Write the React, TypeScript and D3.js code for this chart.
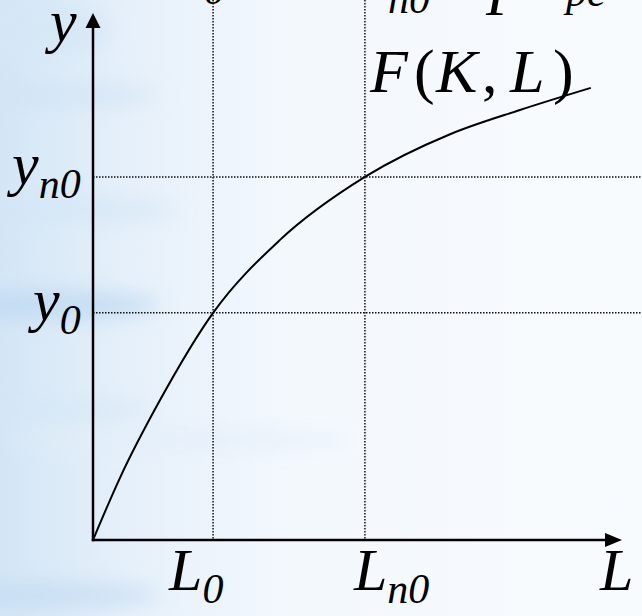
import React from "react";
import * as d3 from "d3";

const W = 642;
const H = 616;

// Sampled points of the production function y = F(K, L), K fixed
const curveL = [0, 0.51, 1.27, 2.27, 3.53, 5.14, 6.75, 8.07, 9.41];
const curveY = [0, 1.18, 2.66, 4.31, 5.69, 6.89, 7.7, 8.16, 8.58];

// Reference levels of labour and output
const markL = [2.27, 5.14];
const markLSubs = ["0", "n0"];
const markY = [4.31, 6.89];
const markYSubs = ["0", "n0"];

const FONT = "'Liberation Serif', 'Times New Roman', serif";

export default function App() {
  const x = d3.scaleLinear().domain([0, 10]).range([93, 622]);
  const y = d3.scaleLinear().domain([0, 10]).range([540, 13]);

  const pts: [number, number][] = curveL.map((l, i) => [l, curveY[i]]);
  const line = d3
    .line<[number, number]>()
    .x((d) => x(d[0]))
    .y((d) => y(d[1]))
    .curve(d3.curveMonotoneX);

  const x0 = x(0);
  const y0 = y(0);

  return (
    <div style={{ position: "fixed", left: 0, top: 0 }}>
      <svg width={W} height={H} viewBox={`0 0 ${W} ${H}`} style={{ display: "block" }}>
        <defs>
          <linearGradient id="bg" x1="0" y1="0" x2="1" y2="0">
            <stop offset="0" stopColor="#d3e6f6" />
            <stop offset="0.2" stopColor="#e6f0fa" />
            <stop offset="0.45" stopColor="#f3f8fd" />
            <stop offset="1" stopColor="#f8fbfe" />
          </linearGradient>
          <filter id="soft" x="-50%" y="-50%" width="200%" height="200%">
            <feGaussianBlur stdDeviation="10" />
          </filter>
        </defs>
        <rect x={0} y={0} width={W} height={H} fill="url(#bg)" />
        <g filter="url(#soft)" opacity={0.85}>
          <ellipse cx={40} cy={305} rx={120} ry={14} fill="#c0daf2" />
          <ellipse cx={30} cy={595} rx={130} ry={12} fill="#c6ddf3" />
          <ellipse cx={20} cy={30} rx={90} ry={30} fill="#d6e7f6" />
          <ellipse cx={50} cy={95} rx={110} ry={10} fill="#d2e4f5" />
          <ellipse cx={60} cy={210} rx={120} ry={10} fill="#d4e6f6" />
          <ellipse cx={40} cy={410} rx={120} ry={8} fill="#d6e7f6" />
          <ellipse cx={180} cy={440} rx={170} ry={8} fill="#e3eef9" />
        </g>

        {/* formula fragment along the top edge */}
        <g fontFamily={FONT} fontStyle="italic" fill="#000">
          <text x={204} y={4} fontSize={42}>0</text>
          <text x={388} y={13} fontSize={42}>n0</text>
          <text x={486} y={15} fontSize={60}>P</text>
          <text x={566} y={6} fontSize={42}>pe</text>
        </g>

        {/* guide lines */}
        <g stroke="#111" strokeWidth={1.5} strokeDasharray="1.5,1.5">
          {markL.map((l, i) => (
            <line key={"vl" + i} x1={x(l)} x2={x(l)} y1={0} y2={y0} />
          ))}
          {markY.map((v, i) => (
            <line key={"hl" + i} x1={x0} x2={W} y1={y(v)} y2={y(v)} />
          ))}
        </g>

        {/* production curve */}
        <path d={line(pts) || ""} fill="none" stroke="#000" strokeWidth={2} />

        {/* axes */}
        <g stroke="#000" strokeWidth={2.5}>
          <line x1={x0} x2={x0} y1={y0 + 1.2} y2={y(10) + 12} />
          <line x1={x0 - 1.2} x2={x(10) - 14} y1={y0} y2={y0} />
        </g>
        <polygon
          points={`${x0},${y(10)} ${x0 - 7.5},${y(10) + 15} ${x0 + 7.5},${y(10) + 15}`}
          fill="#000"
        />
        <polygon
          points={`${x(10)},${y0} ${x(10) - 17},${y0 - 7} ${x(10) - 17},${y0 + 7}`}
          fill="#000"
        />

        {/* axis titles */}
        <g fontFamily={FONT} fontStyle="italic" fill="#000">
          <text x={50} y={41} fontSize={60}>y</text>
          <text x={600} y={590} fontSize={60}>L</text>

          {markY.map((v, i) => (
            <text key={"yl" + i} x={i === 0 ? 33 : 12} y={y(v) + 7} fontSize={60}>
              y
              <tspan fontSize={42} dy={14}>{markYSubs[i]}</tspan>
            </text>
          ))}
          {markL.map((l, i) => (
            <text key={"xl" + i} x={x(l) - (i === 0 ? 44 : 11)} y={590} fontSize={60}>
              L
              <tspan fontSize={42} dy={13}>{markLSubs[i]}</tspan>
            </text>
          ))}

          <text y={92} fontSize={62}>
            <tspan x={370}>F</tspan>
            <tspan x={414} fontStyle="normal">(</tspan>
            <tspan x={436}>K</tspan>
            <tspan x={482} fontStyle="normal">,</tspan>
            <tspan x={510}>L</tspan>
            <tspan x={553} fontStyle="normal">)</tspan>
          </text>
        </g>
      </svg>
    </div>
  );
}
